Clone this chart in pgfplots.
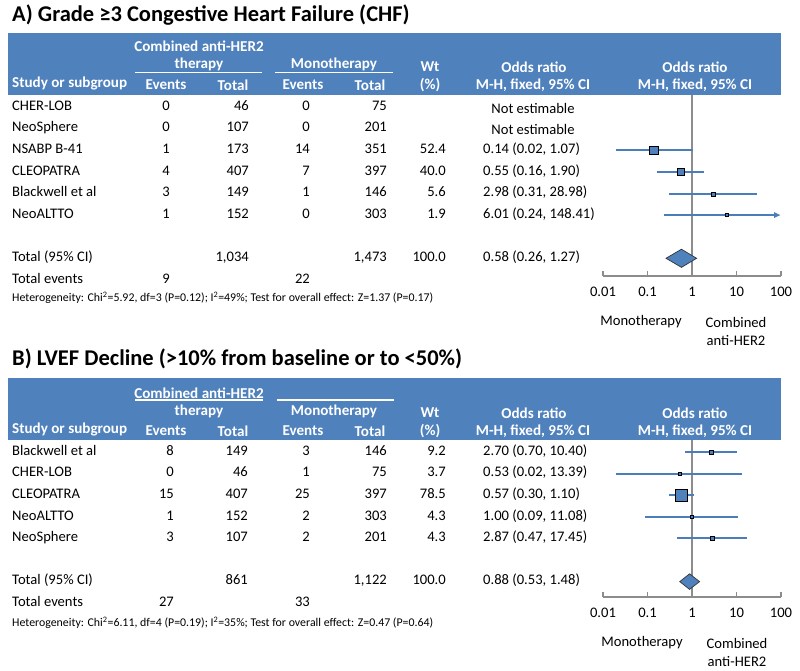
\documentclass[border=0pt]{standalone}
\usepackage{fontspec}
\setmainfont{Carlito}
\usepackage{pgfplots}
\pgfplotsset{compat=1.18}
\usetikzlibrary{arrows.meta}
\definecolor{band}{HTML}{4F81BD}
\definecolor{cil}{HTML}{4A7EBB}
\definecolor{sq}{HTML}{4F81BD}
\definecolor{axgray}{HTML}{8C8C8C}
\newcommand\evx{170}
\newcommand\totx{249}
\newcommand\trow[8]{%
 \node[tx,anchor=mid west] at (12,#1) {#2};
 \node[tx,anchor=mid east] at (\evx,#1) {#3};
 \node[tx,anchor=mid east] at (\totx,#1) {#4};
 \node[tx,anchor=mid east] at (310,#1) {#5};
 \node[tx,anchor=mid east] at (387,#1) {#6};
 \node[tx,anchor=mid east] at (446,#1) {#7};
 \node[tx,anchor=mid west] at (483,#1) {#8};}
\pgfplotsset{
  ci/.style={cil, line width=2pt},
  sqm/.style={only marks, mark=square*, mark options={fill=sq, draw=black, line width=0.7pt}},
  dia/.style={fill=sq, draw=black!80, line width=0.7pt},
}
\begin{document}
\begin{tikzpicture}[x=1pt,y=-1pt,
  tx/.style={font=\fontsize{14.6}{17}\selectfont, inner sep=0pt},
  hd/.style={font=\bfseries\fontsize{15.1}{17}\selectfont, text=white, inner sep=0pt},
  ttl/.style={font=\bfseries\fontsize{22.5}{27}\selectfont, inner sep=0pt},
  sm/.style={font=\fontsize{11.85}{13}\selectfont, inner sep=0pt}]
\path[use as bounding box] (0,0) rectangle (800,670);

% ================= Panel A =================
\node[ttl,anchor=mid west] at (12,19) {A) Grade ≥3 Congestive Heart Failure (CHF)};
\fill[band] (8,33) rectangle (781,95);
\node[hd] at (199,46) {Combined anti-HER2};
\node[hd] at (199,64) {therapy};
\node[hd] at (334,64) {Monotherapy};
\draw[white, line width=1.5pt] (135,72.5) -- (262,72.5);
\draw[white, line width=1.5pt] (275,72.5) -- (393,72.5);
\node[hd,anchor=mid west] at (12,85) {Study or subgroup};
\node[hd] at (166,85) {Events};
\node[hd] at (233,85) {Total};
\node[hd] at (303,85) {Events};
\node[hd] at (370,85) {Total};
\node[hd] at (430,67) {Wt};
\node[hd] at (430,85) {(\%)};
\node[hd] at (534,67) {Odds ratio};
\node[hd] at (533,85) {M-H, fixed, 95\% CI};
\node[hd] at (695,67) {Odds ratio};
\node[hd] at (695,85) {M-H, fixed, 95\% CI};

\renewcommand\evx{170}\renewcommand\totx{249}
\trow{108}{CHER-LOB}{0}{46}{0}{75}{}{}
\node[tx] at (533,108) {Not estimable};
\trow{129.6}{NeoSphere}{0}{107}{0}{201}{}{}
\node[tx] at (533,129.6) {Not estimable};
\trow{151.2}{NSABP B-41}{1}{173}{14}{351}{52.4}{0.14 (0.02, 1.07)}
\trow{172.8}{CLEOPATRA}{4}{407}{7}{397}{40.0}{0.55 (0.16, 1.90)}
\trow{194.4}{Blackwell et al}{3}{149}{1}{146}{5.6}{2.98 (0.31, 28.98)}
\trow{216}{NeoALTTO}{1}{152}{0}{303}{1.9}{6.01 (0.24, 148.41)}
\trow{259.2}{Total (95\% CI)}{}{1,034}{}{1,473}{100.0}{0.58 (0.26, 1.27)}
\trow{280.8}{Total events}{9}{}{22}{}{}{}
\node[sm,anchor=mid west] at (12,299) {Heterogeneity: Chi\textsuperscript{2}=5.92, df=3 (P=0.12); I\textsuperscript{2}=49\%; Test for overall effect: Z=1.37 (P=0.17)};
\node[tx] at (641,322) {Monotherapy};
\node[tx] at (736,322) {Combined};
\node[tx] at (736,340) {anti-HER2};

\begin{axis}[at={(603pt,-276pt)}, anchor=south west,
  scale only axis, width=178pt, height=181pt, clip=false,
  xmode=log, xmin=0.01, xmax=100, ymin=-8.82, ymax=-0.444,
  axis y line=none, axis x line=bottom,
  axis line style={axgray, line width=1.2pt, -},
  xtick={0.01,0.1,1,10,100}, xticklabels={0.01,0.1,1,10,100},
  xminorticks=false, tick align=inside, major tick length=5pt,
  tick style={axgray, line width=1.2pt},
  xticklabel style={font=\fontsize{14.6}{17}\selectfont, anchor=mid, yshift=-18pt, text=black}]
\addplot[axgray, line width=1.2pt] coordinates {(1,-0.444) (1,-8.82)};
\addplot[ci] coordinates {(0.02,-3) (1.07,-3)};
\addplot[ci] coordinates {(0.16,-4) (1.90,-4)};
\addplot[ci] coordinates {(0.31,-5.02) (28.98,-5.02)};
\addplot[ci, -{Latex[length=7pt,width=6.5pt]}] coordinates {(0.24,-6) (100,-6)};
\addplot[sqm, mark size=4.3pt] coordinates {(0.14,-3)};
\addplot[sqm, mark size=3.5pt] coordinates {(0.55,-4)};
\addplot[sqm, mark size=2.0pt] coordinates {(2.98,-5.02)};
\addplot[sqm, mark size=1.5pt] coordinates {(6.01,-6)};
\addplot[dia] coordinates {(0.26,-8) (0.58,-7.58) (1.27,-8) (0.58,-8.42)} -- cycle;
\end{axis}

% ================= Panel B =================
\node[ttl,anchor=mid west] at (12,363) {B) LVEF Decline (>10\% from baseline or to <50\%)};
\fill[band] (8,378) rectangle (781,440);
\node[hd] at (199,393) {Combined anti-HER2};
\draw[white, line width=1.5pt] (135,400) -- (263,400);
\draw[white, line width=1.5pt] (277,400) -- (394,400);
\node[hd] at (199,411) {therapy};
\node[hd] at (334,411) {Monotherapy};
\node[hd,anchor=mid west] at (12,431) {Study or subgroup};
\node[hd] at (166,431) {Events};
\node[hd] at (233,431) {Total};
\node[hd] at (303,431) {Events};
\node[hd] at (370,431) {Total};
\node[hd] at (430,413) {Wt};
\node[hd] at (430,431) {(\%)};
\node[hd] at (534,413) {Odds ratio};
\node[hd] at (533,431) {M-H, fixed, 95\% CI};
\node[hd] at (695,413) {Odds ratio};
\node[hd] at (695,431) {M-H, fixed, 95\% CI};

\renewcommand\evx{174}\renewcommand\totx{248}
\trow{453}{Blackwell et al}{8}{149}{3}{146}{9.2}{2.70 (0.70, 10.40)}
\trow{474.6}{CHER-LOB}{0}{46}{1}{75}{3.7}{0.53 (0.02, 13.39)}
\trow{496.2}{CLEOPATRA}{15}{407}{25}{397}{78.5}{0.57 (0.30, 1.10)}
\trow{517.8}{NeoALTTO}{1}{152}{2}{303}{4.3}{1.00 (0.09, 11.08)}
\trow{539.4}{NeoSphere}{3}{107}{2}{201}{4.3}{2.87 (0.47, 17.45)}
\trow{582.6}{Total (95\% CI)}{}{861}{}{1,122}{100.0}{0.88 (0.53, 1.48)}
\trow{604.2}{Total events}{27}{}{33}{}{}{}
\node[sm,anchor=mid west] at (12,624) {Heterogeneity: Chi\textsuperscript{2}=6.11, df=4 (P=0.19); I\textsuperscript{2}=35\%; Test for overall effect: Z=0.47 (P=0.64)};
\node[tx] at (642,643) {Monotherapy};
\node[tx] at (737,643) {Combined};
\node[tx] at (737,661) {anti-HER2};

\begin{axis}[at={(603pt,-597pt)}, anchor=south west,
  scale only axis, width=178pt, height=157pt, clip=false,
  xmode=log, xmin=0.01, xmax=100, ymin=-7.713, ymax=-0.444,
  axis y line=none, axis x line=bottom,
  axis line style={axgray, line width=1.2pt, -},
  xtick={0.01,0.1,1,10,100}, xticklabels={0.01,0.1,1,10,100},
  xminorticks=false, tick align=inside, major tick length=5pt,
  tick style={axgray, line width=1.2pt},
  xticklabel style={font=\fontsize{14.6}{17}\selectfont, anchor=mid, yshift=-18pt, text=black}]
\addplot[axgray, line width=1.2pt] coordinates {(1,-0.444) (1,-7.713)};
\addplot[ci] coordinates {(0.70,-1) (10.40,-1)};
\addplot[ci] coordinates {(0.02,-2) (13.39,-2)};
\addplot[ci] coordinates {(0.30,-3) (1.10,-3)};
\addplot[ci] coordinates {(0.09,-4) (11.08,-4)};
\addplot[ci] coordinates {(0.47,-5) (17.45,-5)};
\addplot[sqm, mark size=2.0pt] coordinates {(2.70,-1)};
\addplot[sqm, mark size=1.7pt] coordinates {(0.53,-2)};
\addplot[sqm, mark size=5.8pt] coordinates {(0.57,-3)};
\addplot[sqm, mark size=1.8pt] coordinates {(1.00,-4)};
\addplot[sqm, mark size=1.7pt] coordinates {(2.87,-5)};
\addplot[dia] coordinates {(0.53,-7) (0.88,-6.64) (1.48,-7) (0.88,-7.36)} -- cycle;
\end{axis}
\end{tikzpicture}
\end{document}
